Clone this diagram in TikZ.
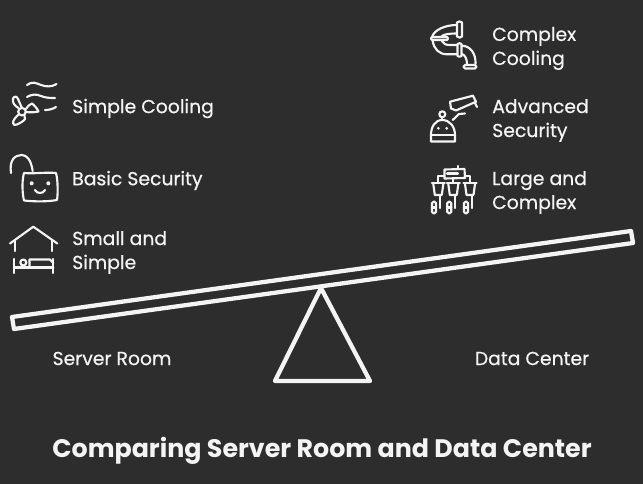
\documentclass[tikz,border=0pt]{standalone}
\usepackage{fontspec}
\setmainfont{Poppins}
\definecolor{bg}{HTML}{2D2D2D}
\definecolor{ink}{HTML}{F4F4F4}
\tikzset{
 ico/.style={draw=ink,line width=1.6pt,line cap=round,line join=round},
 beam/.style={draw=ink,line width=3.2pt,line join=round},
 lbl/.style={text=ink,anchor=west,inner sep=0pt,font=\addfontfeature{FakeBold=0.5}\fontsize{14.1}{18}\selectfont,align=left},
 ttl/.style={text=ink,anchor=center,inner sep=0pt,font=\bfseries\fontsize{19}{22}\selectfont},
}
\begin{document}
\begin{tikzpicture}[x=0.75pt,y=-0.75pt]
\fill[bg] (0,0) rectangle (643,484);
\useasboundingbox (0,0) rectangle (643,484);
% seesaw
\draw[beam] (12,317) -- (631,231) -- (633,243) -- (14,329) -- cycle;
\draw[beam] (321,288) -- (370,381) -- (275,381) -- cycle;
% labels
\node[lbl] (simplecool) at (72,108.5) {Simple Cooling};
\node[lbl] (basicsec) at (72,180.5) {Basic Security};
\node[lbl] (small) at (72,252.5) {Small and\\Simple};
\node[lbl] (complexcool) at (492,48.5) {Complex\\Cooling};
\node[lbl] (advsec) at (492,120.5) {Advanced\\Security};
\node[lbl] (large) at (492,192.5) {Large and\\Complex};
\node[lbl,anchor=center] (sroom) at (112,358.5) {Server Room};
\node[lbl,anchor=center] (dcenter) at (532,358.5) {Data Center};
\node[ttl] (title) at (322,450.5) {Comparing Server Room and Data Center};
% fan
\draw[ico] (22,111.7) circle (3.8);
\draw[ico] (18.5,108) .. controls (15,106) and (12,103) .. (13,98.5) .. controls (14,96) and (17,96) .. (18,99) .. controls (19,102) and (21,105) .. (21.7,107.5);
\draw[ico] (26,109) .. controls (28,106) and (30,104) .. (32,103.5) .. controls (34,105) and (37,108) .. (38.5,111.5) .. controls (34,112.5) and (30,112.5) .. (26,112);
\draw[ico] (18,115) .. controls (16,117) and (13,120) .. (13,123) .. controls (13,125) and (15,125.5) .. (17,124.5) .. controls (20,123) and (24,121) .. (25,119) -- (24.5,115.5);
\draw[ico] (27,85) .. controls (32,81) and (36,83) .. (41,85) .. controls (46,87) and (52,87) .. (56.5,84);
\draw[ico] (27,97) .. controls (32,94) and (36,94) .. (41,96) .. controls (46,98) and (50,98) .. (55,98);
\draw[ico] (45,110) .. controls (49,110) and (53,109) .. (56,107);
% lock
\draw[ico] (24,173) .. controls (34,174) and (46,172) .. (56,173) .. controls (58,180) and (58,194) .. (57,200) .. controls (46,202) and (33,201.5) .. (24,200.5) .. controls (22,192) and (22,180) .. (24,173) -- cycle;
\draw[ico] (11,173) .. controls (9,160) and (15,155) .. (21.7,155) .. controls (27,155) and (31,160) .. (32.7,171);
\fill[ink] (31.7,183.3) circle (2) (48.3,183.3) circle (2);
\draw[ico] (35,190) .. controls (37,194) and (43,194) .. (45,190);
% house
\draw[ico] (10,243.5) -- (33.3,226.7) -- (57.3,243.5);
\draw[ico] (15,241) -- (15,251) (52.3,241) -- (52.3,251);
\draw[ico] (14,259) -- (14,273);
\draw[ico] (53.3,259) -- (53.3,273);
\draw[ico] (14,267.5) -- (53.3,267.5);
\draw[ico] (23.3,262.5) circle (3);
\draw[ico] (29.5,267) -- (29.5,259.5) -- (50,259.5) -- (53.3,263);
% pipes
\draw[ico] (456.7,25) .. controls (445,25) and (434,30) .. (432,37);
\draw[ico] (456.7,33.5) .. controls (450,33.5) and (443,34) .. (441,37);
\draw[ico] (457,22.5) -- (457,36.5) .. controls (459,38) and (461,38) .. (462,36.5) -- (462,22.5) .. controls (461,21) and (458,21) .. (457,22.5) -- cycle;
\draw[ico] (432,37) -- (447,37) .. controls (448.5,37.5) and (448.5,39.5) .. (447,40) -- (432,40) .. controls (430.5,39.5) and (430.5,37.5) .. (432,37) -- cycle;
\draw[ico] (432.7,41) .. controls (434,49) and (439,54.3) .. (447,54.3) -- (457,54.3);
\draw[ico] (442,41) .. controls (443,44) and (446,45) .. (450,45) -- (457,45);
\draw[ico] (457.5,44) .. controls (458,43) and (461,43) .. (461.5,44) -- (461.5,56) .. controls (461,57) and (458,57) .. (457.5,56) -- cycle;
\draw[ico] (462,45.7) .. controls (470,46) and (476,53) .. (475.5,64);
\draw[ico] (462,54) .. controls (465,55) and (467,59) .. (467,64);
\draw[ico] (465,65) -- (475,65) .. controls (477,65.5) and (477,68) .. (475,68.5) -- (465,68.5) .. controls (463,68) and (463,65.5) .. (465,65) -- cycle;
% robot + camera
\draw[ico] (450,101.7) -- (473,95.7) -- (476,101.7) -- (456,110.5) -- (451,108.5) -- cycle;
\draw[ico] (475,103) -- (477,107);
\draw[ico] (452.7,120) -- (459,114) -- (465,113.5);
\draw[ico] (442.3,114.3) circle (3);
\draw[ico] (442.3,117.5) -- (442.3,120);
\draw[ico] (431,135) .. controls (431,127) and (435,120) .. (442.3,120) .. controls (450,120) and (455,127) .. (455,135) -- (455,141.5) -- (431,141.5) -- cycle;
\draw[ico] (431,135) -- (455,135);
\fill[ink] (438.3,128.3) circle (1.5) (446.7,128.3) circle (1.5);
% complex
\draw[ico] (444.5,169.5) -- (464.5,169) -- (465,178) -- (444.5,178.5) -- cycle;
\draw[ico] (447,173.5) -- (458,173.5);
\draw[ico] (457.7,169) -- (457.7,166);
\draw[ico] (444,175.7) -- (438.3,175.7) -- (438.3,183);
\draw[ico] (465,175.7) -- (470,175.7) -- (470,183);
\draw[ico] (453.3,178.5) -- (453.3,183);
\foreach \cx/\bx in {438.3/434,453.3/449.3,470/466}{
 \draw[ico] (\cx-6.5,183.3) -- (\cx+6.5,183.3);
 \draw[ico] (\cx-5,184) -- (\cx-3.5,195) -- (\cx+3.5,195) -- (\cx+5,184);
 \draw[ico] (\cx+2,195) -- (\cx+2,208);
 \draw[ico] (\bx-2,203) .. controls (\bx-1,201) and (\bx+1,201) .. (\bx+2,203) -- (\bx+2,212) .. controls (\bx+1,214) and (\bx-1,214) .. (\bx-2,212) -- cycle;
 \draw[ico] (\bx-2,207.5) -- (\bx+2,207.5);
}
\end{tikzpicture}
\end{document}
